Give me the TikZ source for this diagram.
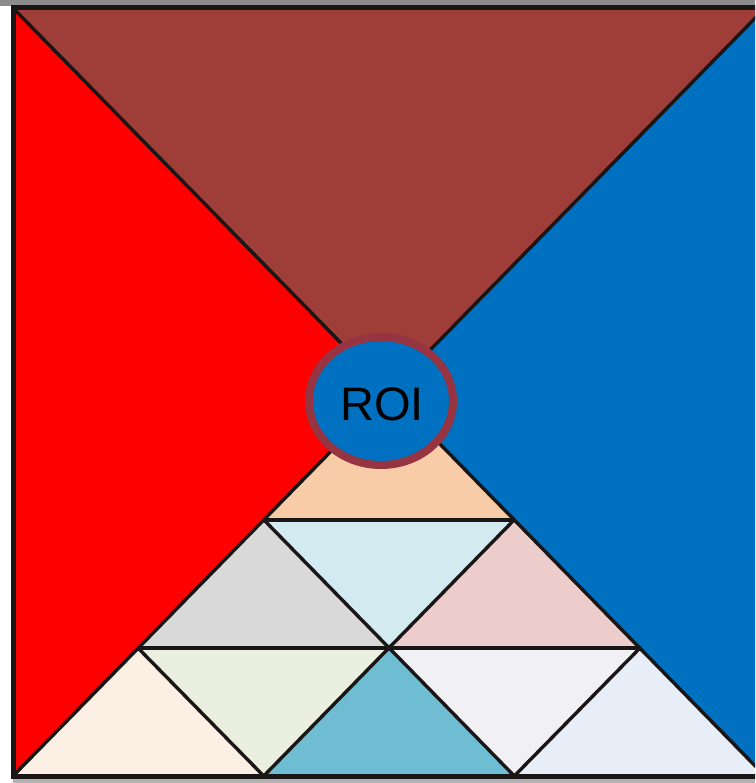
\documentclass[tikz,border=0pt]{standalone}
\usepackage{fontspec}
\setmainfont{Liberation Sans}
\definecolor{cbrown}{RGB}{159,61,56}
\definecolor{cred}{RGB}{255,0,0}
\definecolor{cblue}{RGB}{0,112,192}
\definecolor{cpeach}{RGB}{249,204,168}
\definecolor{ccyan}{RGB}{210,234,240}
\definecolor{cgray}{RGB}{217,217,217}
\definecolor{cpink}{RGB}{236,205,204}
\definecolor{ccream}{RGB}{252,239,228}
\definecolor{cgreen}{RGB}{235,239,223}
\definecolor{cteal}{RGB}{110,189,210}
\definecolor{clav}{RGB}{241,240,245}
\definecolor{clblue}{RGB}{232,238,248}
\definecolor{cring}{RGB}{150,52,66}
\definecolor{cline}{RGB}{26,22,22}
\tikzset{
  inner/.style={draw=cline, line width=3.4pt, line cap=butt, line join=miter},
}
\begin{document}
\begin{tikzpicture}[x=1pt,y=-1pt]
\useasboundingbox (0,0) rectangle (755,783);
\clip (0,0) rectangle (755,783);
\fill[white] (0,0) rectangle (755,783);
\fill[gray!90] (0,0) rectangle (755,6);
\fill[gray!60] (13,779) rectangle (755,783);
\coordinate (TL) at (13,8);
\coordinate (TR) at (765,8);
\coordinate (BL) at (13,776);
\coordinate (BR) at (765,776);
\coordinate (C) at (389,392);
\coordinate (L1) at (264,520);
\coordinate (R1) at (514,520);
\coordinate (L2) at (138,648);
\coordinate (M2) at (389,648);
\coordinate (R2) at (640,648);
\coordinate (B1) at (263.7,776);
\coordinate (B2) at (514.3,776);
% big pieces
\fill[cbrown] (TL) -- (TR) -- (C) -- cycle;
\fill[cred] (TL) -- (C) -- (BL) -- cycle;
\fill[cblue] (TR) -- (BR) -- (C) -- cycle;
% bottom triangle pieces
\fill[cpeach] (C) -- (L1) -- (R1) -- cycle;
\fill[cgray] (L1) -- (L2) -- (M2) -- cycle;
\fill[ccyan] (L1) -- (R1) -- (M2) -- cycle;
\fill[cpink] (R1) -- (M2) -- (R2) -- cycle;
\fill[ccream] (L2) -- (BL) -- (B1) -- cycle;
\fill[cgreen] (L2) -- (M2) -- (B1) -- cycle;
\fill[cteal] (M2) -- (B1) -- (B2) -- cycle;
\fill[clav] (M2) -- (R2) -- (B2) -- cycle;
\fill[clblue] (R2) -- (B2) -- (BR) -- cycle;
% lines
\draw[inner] (TL) -- (C) -- (BR);
\draw[inner] (TR) -- (C) -- (BL);
\draw[inner] (L1) -- (R1);
\draw[inner] (L2) -- (R2);
\draw[inner] (L1) -- (B2);
\draw[inner] (R1) -- (B1);
\draw[inner] (L2) -- (B1);
\draw[inner] (R2) -- (B2);
% outer border
\draw[draw=cline, line width=5pt] (TL) rectangle (BR);
% ROI
\coordinate (roic) at (381,401);
\draw[fill=cblue, draw=cring, line width=8pt] (roic) ellipse [x radius=72, y radius=64];
\node[font=\fontsize{47}{50}\selectfont, text=black, inner sep=0pt] (roi) at (382,404) {ROI};
\end{tikzpicture}
\end{document}
